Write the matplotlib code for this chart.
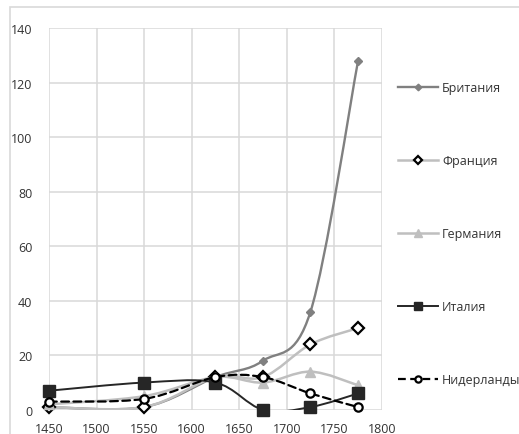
import matplotlib.pyplot as plt
from matplotlib.path import Path
from matplotlib.patches import PathPatch, Rectangle
from matplotlib.lines import Line2D

years = [1450, 1550, 1625, 1675, 1725, 1775]
britain = [1, 1, 12, 18, 36, 128]
france = [1, 1, 12, 12, 24, 30]
germany = [2, 5, 12, 10, 14, 9]
italy = [7, 10, 10, 0, 1, 6]
netherlands = [3, 4, 12, 12, 6, 1]

names = ['Британия', 'Франция', 'Германия', 'Италия', 'Нидерланды']
x_ticks = [1450, 1500, 1550, 1600, 1650, 1700, 1750, 1800]
y_ticks = [0, 20, 40, 60, 80, 100, 120, 140]

plt.rcParams['font.family'] = ['Open Sans', 'DejaVu Sans']
text_color = '#333333'
grid_color = '#d9d9d9'


def smooth_path(xs, ys):
    # Excel-style smoothed line: cubic Bezier segments (Catmull-Rom tangents)
    pts = list(zip(xs, ys))
    verts = [pts[0]]
    codes = [Path.MOVETO]
    n = len(pts)
    for i in range(n - 1):
        p0 = pts[i - 1] if i > 0 else pts[i]
        p1 = pts[i]
        p2 = pts[i + 1]
        p3 = pts[i + 2] if i + 2 < n else pts[i + 1]
        c1 = (p1[0] + (p2[0] - p0[0]) / 6, p1[1] + (p2[1] - p0[1]) / 6)
        c2 = (p2[0] - (p3[0] - p1[0]) / 6, p2[1] - (p3[1] - p1[1]) / 6)
        verts += [c1, c2, p2]
        codes += [Path.CURVE4] * 3
    return Path(verts, codes)


series = [
    (britain, dict(color='#808080', lw=1.7, ls='-'),
     dict(marker='D', ms=4.5, mfc='#808080', mec='#808080', mew=1)),
    (france, dict(color='#bfbfbf', lw=1.8, ls='-'),
     dict(marker='D', ms=6, mfc='white', mec='black', mew=1.6)),
    (germany, dict(color='#bfbfbf', lw=1.8, ls='-'),
     dict(marker='^', ms=7, mfc='#bfbfbf', mec='#bfbfbf', mew=1)),
    (italy, dict(color='#262626', lw=1.4, ls='-'),
     dict(marker='s', ms=8.5, mfc='#262626', mec='#262626', mew=1)),
    (netherlands, dict(color='black', lw=1.6, ls=(0, (3.5, 2))),
     dict(marker='o', ms=6, mfc='white', mec='black', mew=1.6)),
]

fig = plt.figure(figsize=(5.19, 4.35), dpi=100)
ax = fig.add_axes([49 / 519, 1 - 410.8 / 435, (381.8 - 49) / 519, (410.8 - 29.3) / 435])

# chart area frame
fig.patches.append(Rectangle((10 / 519, -0.1), 1.2, 1 - 8 / 435 + 0.1,
                             transform=fig.transFigure, fill=False,
                             edgecolor=grid_color, lw=1.2, zorder=0))

handles = []
for z, (vals, line_kw, mark_kw) in enumerate(series):
    patch = PathPatch(smooth_path(years, vals), fill=False, edgecolor=line_kw['color'],
                      lw=line_kw['lw'], ls=line_kw['ls'], capstyle='round',
                      joinstyle='round', zorder=3 + z)
    ax.add_patch(patch)
    ax.plot(years, vals, ls='none', zorder=3 + z, clip_on=False, **mark_kw)
    handles.append(Line2D([], [], color=line_kw['color'], lw=line_kw['lw'],
                          ls=line_kw['ls'], **mark_kw))

ax.set_xlim(1450, 1800)
ax.set_ylim(0, 140)
ax.set_xticks(x_ticks)
ax.set_yticks(y_ticks)
ax.grid(True, color=grid_color, lw=1.1)
ax.set_axisbelow(True)
for s in ax.spines.values():
    s.set_visible(False)
ax.tick_params(length=0, labelsize=9, colors=text_color)
ax.tick_params(axis='x', pad=9)
ax.tick_params(axis='y', pad=12)

fig.legend(handles, names, loc='upper left', bbox_to_anchor=(392 / 519, 1 - 76 / 435),
           frameon=False, fontsize=9, labelcolor=text_color, handlelength=3.2,
           handletextpad=0.3, labelspacing=4.8, borderpad=0, markerscale=0.75)

fig.savefig('out.png', dpi=100)
